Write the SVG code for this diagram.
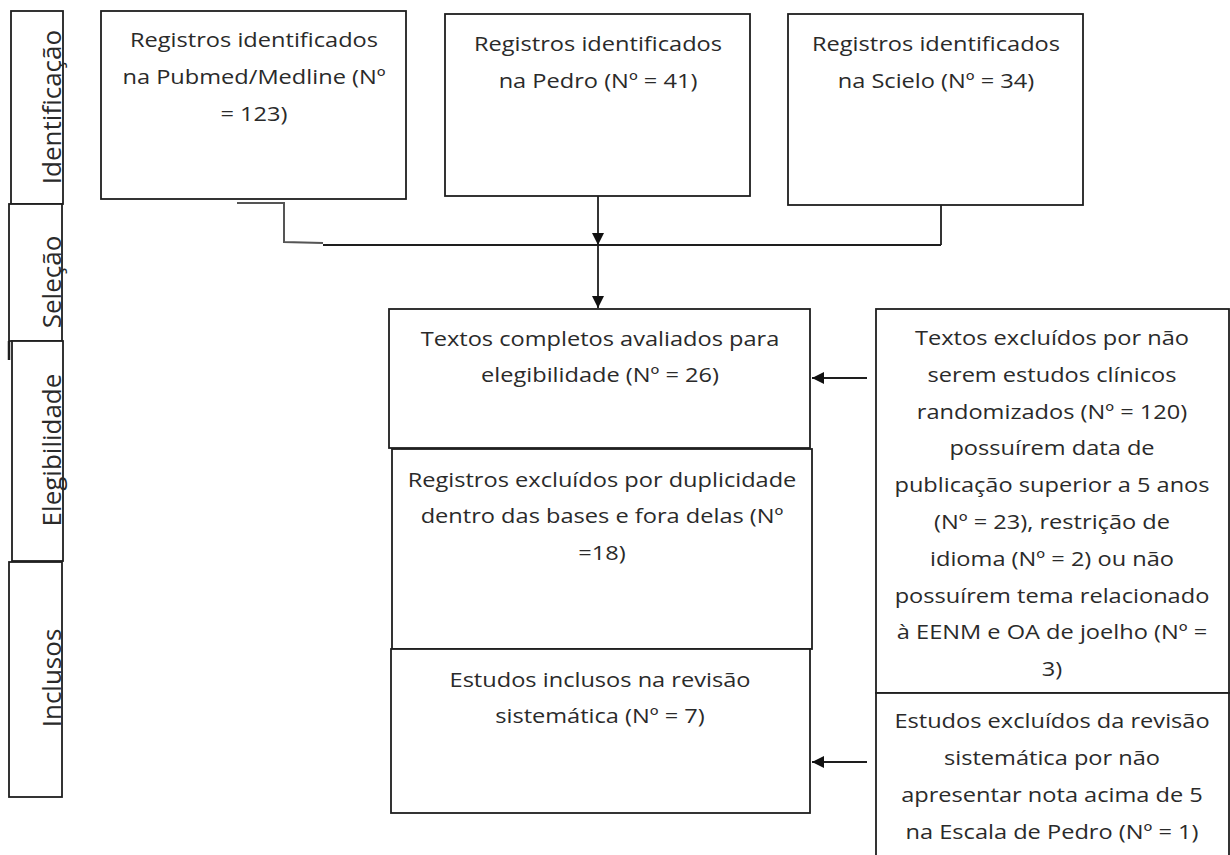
<svg xmlns="http://www.w3.org/2000/svg" width="1230" height="855" viewBox="0 0 1230 855">
<style>
.box{fill:#fff;stroke:#1e1e1e;stroke-width:1.8}
.side{fill:#fff;stroke:#1e1e1e;stroke-width:1.8}
.t{font-family:"Open Sans","Liberation Sans",sans-serif;font-size:20px;fill:#2a2a2a;text-anchor:middle}
.s{font-family:"Open Sans","Liberation Sans",sans-serif;font-size:26px;fill:#2a2a2a;text-anchor:middle}
.ln{fill:none;stroke:#1e1e1e;stroke-width:1.8}
.gl{fill:none;stroke:#555;stroke-width:2}
</style>
<defs>
<marker id="ah" markerWidth="12" markerHeight="12" refX="12" refY="6" orient="auto" markerUnits="userSpaceOnUse">
<path d="M0,0 L12,6 L0,12 Z" fill="#111"/>
</marker>
</defs>
<rect width="1230" height="855" fill="#fff"/>

<g id="stage-identificacao">
<rect class="side" x="11" y="11" width="52" height="193"/>
<text class="s" transform="translate(61 107) rotate(-90)" x="0" y="0">Identificação</text>
</g>
<g id="stage-selecao">
<rect class="side" x="9" y="204" width="53" height="137"/>
<line class="ln" x1="9" y1="341" x2="9" y2="360" style="stroke-width:2.5"/>
<text class="s" transform="translate(61 282) rotate(-90)" x="0" y="0">Seleção</text>
</g>
<g id="stage-elegibilidade">
<rect class="side" x="12" y="341" width="51" height="220"/>
<text class="s" transform="translate(61 450) rotate(-90)" x="0" y="0">Elegibilidade</text>
</g>
<g id="stage-inclusos">
<rect class="side" x="9" y="562" width="53" height="235"/>
<text class="s" transform="translate(61 678) rotate(-90)" x="0" y="0">Inclusos</text>
</g>

<g id="connectors">
<polyline class="gl" points="237,203 284,203 284,242 323,243"/>
<line class="ln" x1="323" y1="245" x2="941" y2="245"/>
<line class="ln" x1="941" y1="245" x2="941" y2="205"/>
<line class="ln" x1="598" y1="196" x2="598" y2="245" marker-end="url(#ah)"/>
<line class="ln" x1="598" y1="245" x2="598" y2="308" marker-end="url(#ah)"/>
<line class="ln" x1="867" y1="378" x2="812" y2="378" marker-end="url(#ah)"/>
<line class="ln" x1="867" y1="762" x2="812" y2="762" marker-end="url(#ah)"/>
</g>

<g id="pubmed">
<rect class="box" x="101" y="11" width="305" height="188"/>
<text class="t" transform="translate(254 0) scale(1.18 1)"><tspan x="0" y="47">Registros identificados</tspan><tspan x="0" y="84">na Pubmed/Medline (Nº</tspan><tspan x="0" y="121">= 123)</tspan></text>
</g>
<g id="pedro">
<rect class="box" x="445" y="14" width="305" height="182"/>
<text class="t" transform="translate(598 0) scale(1.18 1)"><tspan x="0" y="51">Registros identificados</tspan><tspan x="0" y="88">na Pedro (Nº = 41)</tspan></text>
</g>
<g id="scielo">
<rect class="box" x="788" y="14" width="295" height="191"/>
<text class="t" transform="translate(936 0) scale(1.18 1)"><tspan x="0" y="51">Registros identificados</tspan><tspan x="0" y="88">na Scielo (Nº = 34)</tspan></text>
</g>

<g id="textos-completos">
<rect class="box" x="389" y="309" width="421" height="139"/>
<text class="t" transform="translate(600 0) scale(1.18 1)"><tspan x="0" y="346">Textos completos avaliados para</tspan><tspan x="0" y="382">elegibilidade (Nº = 26)</tspan></text>
</g>
<g id="registros-excluidos">
<rect class="box" x="392" y="449" width="420" height="200"/>
<text class="t" transform="translate(602 0) scale(1.18 1)"><tspan x="0" y="487">Registros excluídos por duplicidade</tspan><tspan x="0" y="523">dentro das bases e fora delas (Nº</tspan><tspan x="0" y="560">=18)</tspan></text>
</g>
<g id="estudos-inclusos">
<rect class="box" x="391" y="649" width="419" height="164"/>
<text class="t" transform="translate(600 0) scale(1.18 1)"><tspan x="0" y="687">Estudos inclusos na revisão</tspan><tspan x="0" y="723">sistemática (Nº = 7)</tspan></text>
</g>

<g id="textos-excluidos">
<rect class="box" x="876" y="309" width="353" height="384"/>
<text class="t" transform="translate(1052 0) scale(1.18 1)"><tspan x="0" y="345">Textos excluídos por não</tspan><tspan x="0" y="382">serem estudos clínicos</tspan><tspan x="0" y="419">randomizados (Nº = 120)</tspan><tspan x="0" y="455">possuírem data de</tspan><tspan x="0" y="492">publicação superior a 5 anos</tspan><tspan x="0" y="529">(Nº = 23), restrição de</tspan><tspan x="0" y="566">idioma (Nº = 2) ou não</tspan><tspan x="0" y="603">possuírem tema relacionado</tspan><tspan x="0" y="639">à EENM e OA de joelho (Nº =</tspan><tspan x="0" y="676">3)</tspan></text>
</g>
<g id="estudos-excluidos">
<rect class="box" x="876" y="693" width="353" height="170"/>
<text class="t" transform="translate(1052 0) scale(1.18 1)"><tspan x="0" y="728">Estudos excluídos da revisão</tspan><tspan x="0" y="765">sistemática por não</tspan><tspan x="0" y="802">apresentar nota acima de 5</tspan><tspan x="0" y="839">na Escala de Pedro (Nº = 1)</tspan></text>
</g>
</svg>
